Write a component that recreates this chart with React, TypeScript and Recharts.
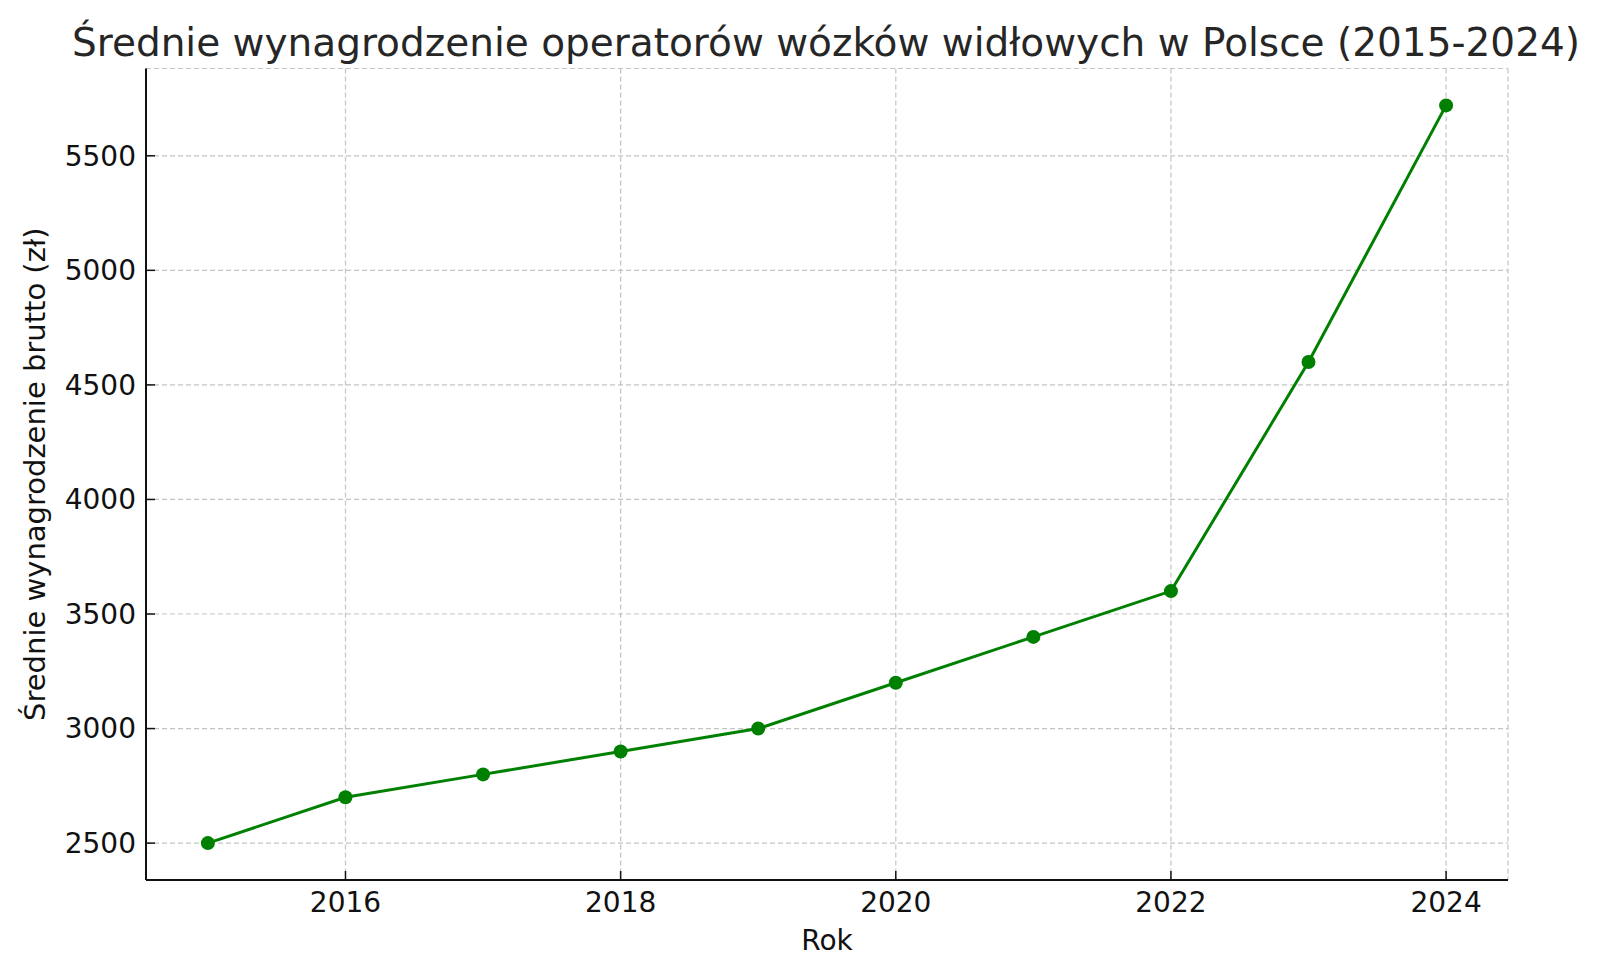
import { CartesianGrid, Label, Line, LineChart, XAxis, YAxis } from "recharts";

const years = [2015, 2016, 2017, 2018, 2019, 2020, 2021, 2022, 2023, 2024];
const salaries = [2500, 2700, 2800, 2900, 3000, 3200, 3400, 3600, 4600, 5720];
const xTicks = [2016, 2018, 2020, 2022, 2024];
const yTicks = [2500, 3000, 3500, 4000, 4500, 5000, 5500];

const title = "Średnie wynagrodzenie operatorów wózków widłowych w Polsce (2015-2024)";
const xLabel = "Rok";
const yLabel = "Średnie wynagrodzenie brutto (zł)";

const data = years.map((year, i) => ({ year, salary: salaries[i] }));

const FONT = "DejaVu Sans";
const GREEN = "#008000";

export default function App() {
  return (
    <div
      style={{
        position: "absolute",
        left: 0,
        top: 0,
        width: 1600,
        height: 974,
        background: "#fff",
        fontFamily: FONT
      }}
    >
      <LineChart width={1600} height={974} data={data} margin={{ top: 68.5, right: 92, bottom: 0, left: 0 }}>
        <CartesianGrid stroke="#c4c4c4" strokeDasharray="5 3" strokeWidth={1.2} />
        <XAxis
          dataKey="year"
          type="number"
          domain={[2014.55, 2024.45]}
          ticks={xTicks}
          height={94}
          tick={{ fontSize: 28, fill: "#111", fontFamily: FONT }}
          tickSize={-9}
          tickMargin={21}
          tickLine={{ stroke: "#111", strokeWidth: 1.5 }}
          axisLine={{ stroke: "#111", strokeWidth: 2 }}
        >
          <Label
            value={xLabel}
            position="insideBottom"
            offset={24}
            style={{ fontSize: 28, fill: "#111", fontFamily: FONT }}
          />
        </XAxis>
        <YAxis
          type="number"
          domain={[2339, 5881]}
          ticks={yTicks}
          width={146}
          tick={{ fontSize: 28, fill: "#111", fontFamily: FONT }}
          tickSize={-9}
          tickMargin={19}
          tickLine={{ stroke: "#111", strokeWidth: 1.5 }}
          axisLine={{ stroke: "#111", strokeWidth: 2 }}
        >
          <Label
            content={({ viewBox }: any) => {
              const cx = viewBox.x + 45;
              const cy = viewBox.y + viewBox.height / 2;
              return (
                <text
                  x={cx}
                  y={cy}
                  transform={`rotate(-90, ${cx}, ${cy})`}
                  textAnchor="middle"
                  fontSize={29}
                  fill="#111"
                  fontFamily={FONT}
                >
                  {yLabel}
                </text>
              );
            }}
          />
        </YAxis>
        <Line
          type="linear"
          dataKey="salary"
          stroke={GREEN}
          strokeWidth={3}
          dot={{ r: 7, fill: GREEN, stroke: GREEN, strokeWidth: 0 }}
          activeDot={false}
          isAnimationActive={false}
        />
      </LineChart>
      <svg
        width={1600}
        height={100}
        style={{ position: "absolute", left: 0, top: 0, pointerEvents: "none" }}
      >
        <text x={826} y={56} textAnchor="middle" fontSize={39} fill="#262626" fontFamily={FONT}>
          {title}
        </text>
      </svg>
    </div>
  );
}
